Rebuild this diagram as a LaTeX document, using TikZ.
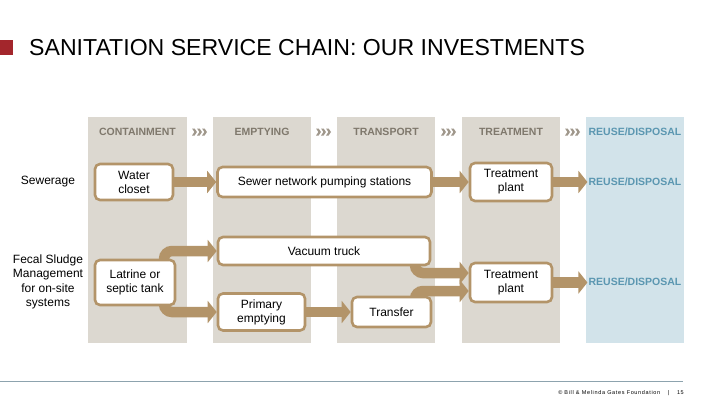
\documentclass[tikz,border=0pt]{standalone}
\usepackage{fontspec}
\setmainfont{Liberation Sans}
\usetikzlibrary{arrows.meta}
\pgfdeclarelayer{back}
\pgfdeclarelayer{mid}
\pgfsetlayers{back,mid,main}
\definecolor{bandgrey}{HTML}{DCD8D0}
\definecolor{bandblue}{HTML}{D2E3EA}
\definecolor{tan}{HTML}{B39469}
\definecolor{headgrey}{HTML}{7F786C}
\definecolor{reuseblue}{HTML}{5B97B1}
\definecolor{chevgrey}{HTML}{A0988C}
\definecolor{titlered}{HTML}{A3262C}
\definecolor{footline}{HTML}{8DA3AE}
\tikzset{
  box/.style={draw=tan, line width=2.6pt, fill=white, rounded corners=5pt,
    align=center, inner sep=0pt, font=\fontsize{12}{14}\selectfont},
  flow/.style={draw=tan, line width=10.5pt, rounded corners=8pt,
    -{Triangle[length=9pt,width=22pt]}},
  head/.style={font=\fontsize{10.5}{12}\selectfont\bfseries, text=headgrey, inner sep=1pt},
  reuse/.style={font=\fontsize{10.5}{12}\selectfont\bfseries, text=reuseblue, inner sep=1pt},
  rowlabel/.style={font=\fontsize{12}{14.5}\selectfont, align=center, inner sep=0pt},
  chev/.pic={
    \foreach \d in {-8,-3,2}
      \fill[chevgrey] (\d,-3.5) -- (\d+2.6,-3.5) -- (\d+5,0) -- (\d+2.6,3.5) -- (\d,3.5) -- (\d+2.4,0) -- cycle;
  }
}
\begin{document}
\begin{tikzpicture}[x=1pt,y=-1pt]
\useasboundingbox (0,0) rectangle (720,405);
\begin{pgfonlayer}{back}
\fill[white] (0,0) rectangle (720,405);
% bands
\fill[bandgrey] (88,117) rectangle (187,343);
\fill[bandgrey] (213,117) rectangle (311,343);
\fill[bandgrey] (337,117) rectangle (435,343);
\fill[bandgrey] (462,117) rectangle (560,343);
\fill[bandblue] (586,117) rectangle (684,343);
\end{pgfonlayer}
% title
\fill[titlered] (0,40) rectangle (13,55);
\node[anchor=west, inner sep=0pt, font=\fontsize{23.1}{26}\selectfont] (title) at (29,48) {SANITATION SERVICE CHAIN: OUR INVESTMENTS};
% headers
\node[head] (h1) at (137.5,132) {CONTAINMENT};
\node[head] (h2) at (262,132) {EMPTYING};
\node[head] (h3) at (386,132) {TRANSPORT};
\node[head] (h4) at (511,132) {TREATMENT};
\node[reuse] (h5) at (635,132) {REUSE/DISPOSAL};
\pic at (200,132) {chev};
\pic at (324,132) {chev};
\pic at (449,132) {chev};
\pic at (573,132) {chev};
% row labels
\node[rowlabel] (l1) at (48,182) {Sewerage};
\node[rowlabel] (l2) at (48,282) {Fecal Sludge\\Management\\for on-site\\systems};
% row 1 nodes
\node[box, minimum width=78pt, minimum height=36pt] (wc) at (134,182) {Water\\closet};
\node[box, minimum width=214pt, minimum height=30pt] (sewer) at (324.5,182) {Sewer network pumping stations};
\node[box, minimum width=82pt, minimum height=38pt] (tp1) at (511,182) {Treatment\\plant};
\node[reuse] (r1) at (635,182) {REUSE/DISPOSAL};
% row 2 nodes
\node[box, minimum width=80pt, minimum height=45pt] (lat) at (135,282.5) {Latrine or\\septic tank};
\node[box, minimum width=212pt, minimum height=28pt] (vac) at (324,251) {Vacuum truck};
\node[box, minimum width=87pt, minimum height=37pt] (prim) at (261.5,312) {Primary\\emptying};
\node[box, minimum width=79pt, minimum height=30pt] (trans) at (391.5,312) {Transfer};
\node[box, minimum width=82pt, minimum height=39pt] (tp2) at (511,282.5) {Treatment\\plant};
\node[reuse] (r2) at (635,282) {REUSE/DISPOSAL};
% flows (behind boxes)
\begin{pgfonlayer}{mid}
\draw[flow] (wc.center) -- (sewer.west);
\draw[flow] (sewer.center) -- (tp1.west);
\draw[flow] (tp1.center) -- (tp1.center -| r1.west);
\draw[flow] ([xshift=29pt]lat.center) |- (vac.west);
\draw[flow] ([xshift=29pt]lat.center) |- (prim.west);
\draw[flow] (prim.center) -- (prim.center -| trans.west);
\draw[flow] ([xshift=91pt]vac.center) |- ([yshift=9.5pt]tp2.west);
\draw[flow] ([xshift=23.5pt]trans.center) |- ([yshift=-8.5pt]tp2.west);
\draw[flow] (tp2.center) -- (tp2.center -| r2.west);
\end{pgfonlayer}
% footer
\coordinate (fl) at (0,381);
\coordinate (fr) at (683,381);
\draw[footline, line width=1pt] (fl) -- (fr);
\node[anchor=east, inner sep=0pt, font=\fontsize{5.5}{6}\selectfont\addfontfeature{LetterSpace=12}] (foot) at (684,393) {© Bill \& Melinda Gates Foundation \quad | \quad 15};
\end{tikzpicture}
\end{document}
